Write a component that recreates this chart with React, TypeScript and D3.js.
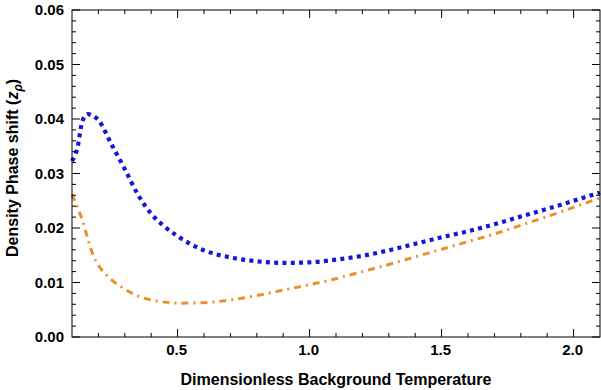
import React, { useEffect, useRef } from 'react';
import * as d3 from 'd3';

// ==== data

const temperature = [0.1, 0.12, 0.14, 0.16, 0.18, 0.2, 0.25, 0.3, 0.35, 0.4, 0.45, 0.5, 0.6, 0.7, 0.8, 0.9, 1.0, 1.1, 1.2, 1.3, 1.4, 1.5, 1.6, 1.7, 1.8, 1.9, 2.0, 2.1];

const blueSeries = [0.0323, 0.0346, 0.0397, 0.0409, 0.0406, 0.0398, 0.0353, 0.0308, 0.0261, 0.0226, 0.0203, 0.0185, 0.0159, 0.0146, 0.0139, 0.0136, 0.0137, 0.0142, 0.0149, 0.0159, 0.0171, 0.0183, 0.0194, 0.0207, 0.0221, 0.0235, 0.025, 0.0265];

const orangeSeries = [0.0262, 0.0238, 0.0214, 0.018, 0.015, 0.0132, 0.0105, 0.0088, 0.0075, 0.0068, 0.0064, 0.0062, 0.0063, 0.0068, 0.0076, 0.0086, 0.0096, 0.0107, 0.012, 0.0133, 0.0147, 0.0161, 0.0175, 0.0189, 0.0205, 0.0221, 0.0238, 0.0255];

const xMajor = [0.5, 1.0, 1.5, 2.0];
const xMinor = [0.2, 0.3, 0.4, 0.6, 0.7, 0.8, 0.9, 1.1, 1.2, 1.3, 1.4, 1.6, 1.7, 1.8, 1.9];
const yMajor = [0, 0.01, 0.02, 0.03, 0.04, 0.05, 0.06];
const yMinor = d3.range(0, 0.06, 0.002).filter((v) => Math.abs(v / 0.01 - Math.round(v / 0.01)) > 0.01);

// ====

const W = 601;
const H = 390;
const margin = { left: 72, right: 1, top: 10, bottom: 53 };
const FONT = '"Liberation Sans", Arial, sans-serif';

export default function App() {
    const ref = useRef<SVGSVGElement | null>(null);

    useEffect(() => {
        const svg = d3.select(ref.current);
        svg.selectAll('*').remove();

        const x = d3.scaleLinear().domain([0.1, 2.1]).range([margin.left, W - margin.right]);
        const y = d3.scaleLinear().domain([0, 0.06]).range([H - margin.bottom, margin.top]);
        const [x0, x1] = x.range();
        const [y0, y1] = y.range();

        const g = svg.append('g');

        // curves
        const line = d3.line<number>()
            .x((d, i) => x(temperature[i]))
            .y((d) => y(d))
            .curve(d3.curveMonotoneX);

        g.append('path')
            .attr('d', line(orangeSeries))
            .attr('fill', 'none')
            .attr('stroke', '#EC8F2C')
            .attr('stroke-width', 3)
            .attr('stroke-dasharray', '7 5 2 5');

        g.append('path')
            .attr('d', line(blueSeries))
            .attr('fill', 'none')
            .attr('stroke', '#1515DC')
            .attr('stroke-width', 4.2)
            .attr('stroke-dasharray', '4 4.3');

        // frame
        g.append('rect')
            .attr('x', x0).attr('y', y1)
            .attr('width', x1 - x0).attr('height', y0 - y1)
            .attr('fill', 'none').attr('stroke', '#000').attr('stroke-width', 1);

        const ticks = g.append('g').attr('stroke', '#000').attr('stroke-width', 1);
        const xTick = (v: number, len: number) => {
            ticks.append('line').attr('x1', x(v)).attr('x2', x(v)).attr('y1', y0).attr('y2', y0 - len);
            ticks.append('line').attr('x1', x(v)).attr('x2', x(v)).attr('y1', y1).attr('y2', y1 + len);
        };
        const yTick = (v: number, len: number) => {
            ticks.append('line').attr('x1', x0).attr('x2', x0 + len).attr('y1', y(v)).attr('y2', y(v));
            ticks.append('line').attr('x1', x1).attr('x2', x1 - len).attr('y1', y(v)).attr('y2', y(v));
        };
        xMajor.forEach((v) => xTick(v, 8));
        xMinor.forEach((v) => xTick(v, 4));
        yMajor.forEach((v) => yTick(v, 8));
        yMinor.forEach((v) => yTick(v, 4));

        // tick labels
        g.selectAll('.xl')
            .data(xMajor)
            .enter()
            .append('text')
            .attr('x', (d) => x(d) - 1)
            .attr('y', y0 + 18)
            .attr('text-anchor', 'middle')
            .attr('font-family', FONT)
            .attr('font-weight', 'bold')
            .attr('font-size', 15)
            .text((d) => d.toFixed(1));

        g.selectAll('.yl')
            .data(yMajor)
            .enter()
            .append('text')
            .attr('x', x0 - 8)
            .attr('y', (d) => y(d) + 5)
            .attr('text-anchor', 'end')
            .attr('font-family', FONT)
            .attr('font-weight', 'bold')
            .attr('font-size', 15)
            .text((d) => d.toFixed(2));

        // axis titles
        g.append('text')
            .attr('x', (x0 + x1) / 2)
            .attr('y', 385)
            .attr('text-anchor', 'middle')
            .attr('font-family', FONT)
            .attr('font-weight', 'bold')
            .attr('font-size', 16)
            .text('Dimensionless Background Temperature');

        const yl = g.append('text')
            .attr('transform', 'translate(18,168) rotate(-90)')
            .attr('text-anchor', 'middle')
            .attr('font-family', FONT)
            .attr('font-weight', 'bold')
            .attr('font-size', 16);
        yl.append('tspan').text('Density Phase shift (');
        yl.append('tspan').attr('font-style', 'italic').text('z');
        yl.append('tspan').attr('font-style', 'italic').attr('font-size', 12).attr('dy', 4).text('ρ');
        yl.append('tspan').attr('dy', -4).text(')');
    }, []);

    return (
        <svg
            ref={ref}
            width={W}
            height={H}
            style={{ position: 'absolute', left: 0, top: 0, background: '#fff' }}>
        </svg>
    );
}
